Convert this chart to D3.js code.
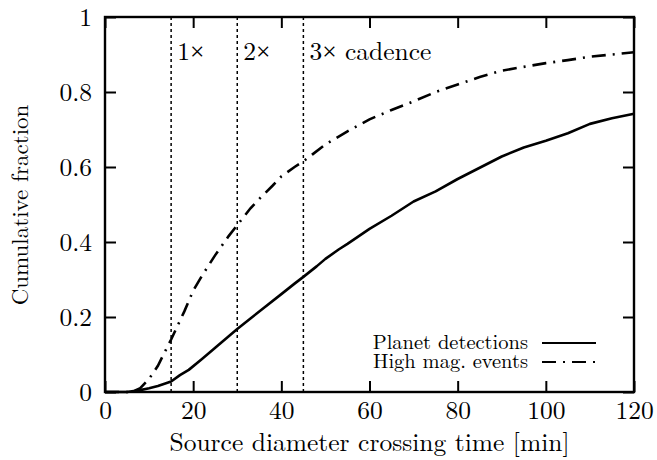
<!DOCTYPE html>
<html>
<head>
<meta charset="utf-8">
<script src="https://cdn.jsdelivr.net/npm/d3@7"></script>
<style>
  html, body { margin: 0; padding: 0; background: #fff; }
  svg { display: block; }
</style>
</head>
<body>
<svg id="chart" width="657" height="460"></svg>
<script>
// ---- data ----
const planetT = [0, 5, 8, 10, 12, 15, 17, 19, 22, 25, 28, 30, 33, 36, 40, 43, 45, 48, 50, 53, 55, 60, 65, 70, 75, 80, 85, 90, 95, 100, 105, 110, 115, 120];
const planetF = [0, 0, 0.005, 0.01, 0.016, 0.028, 0.045, 0.059, 0.088, 0.118, 0.148, 0.168, 0.196, 0.224, 0.261, 0.289, 0.307, 0.335, 0.355, 0.38, 0.395, 0.435, 0.47, 0.508, 0.535, 0.568, 0.598, 0.628, 0.652, 0.67, 0.69, 0.715, 0.73, 0.742];
const highT = [0, 6, 8, 10, 12, 15, 18, 20, 22, 25, 28, 30, 33, 35, 38, 40, 43, 45, 47, 50, 55, 60, 65, 70, 75, 80, 85, 90, 95, 100, 105, 110, 115, 120];
const highF = [0, 0, 0.01, 0.035, 0.07, 0.14, 0.215, 0.27, 0.31, 0.365, 0.415, 0.445, 0.49, 0.515, 0.55, 0.575, 0.6, 0.615, 0.633, 0.66, 0.695, 0.727, 0.752, 0.775, 0.8, 0.82, 0.84, 0.857, 0.867, 0.877, 0.885, 0.894, 0.9, 0.906];
const cadenceX = [15, 30, 45];
const cadenceLabels = ["1×", "2×", "3× cadence"];
const xTicks = [0, 20, 40, 60, 80, 100, 120];
const yTicks = [0, 0.2, 0.4, 0.6, 0.8, 1];
const yTickLabels = ["0", "0.2", "0.4", "0.6", "0.8", "1"];
const seriesNames = ["Planet detections", "High mag. events"];

// ---- layout ----
const FONT = '"Latin Modern Roman", "CMU Serif", "Liberation Serif", serif';
const L = 105, R = 634, T = 17, B = 392;
const svg = d3.select("#chart").style("font-family", FONT);
const x = d3.scaleLinear().domain([0, 120]).range([L, R]);
const y = d3.scaleLinear().domain([0, 1]).range([B, T]);
const tickLen = 11;

// axes (inward ticks on all sides)
const gB = svg.append("g").attr("transform", `translate(0,${B})`)
  .call(d3.axisBottom(x).tickValues(xTicks).tickSizeInner(-tickLen).tickSizeOuter(0).tickPadding(9).tickFormat(d3.format("d")));
const gT = svg.append("g").attr("transform", `translate(0,${T})`)
  .call(d3.axisTop(x).tickValues(xTicks).tickSizeInner(-tickLen).tickSizeOuter(0).tickFormat(""));
const gL = svg.append("g").attr("transform", `translate(${L},0)`)
  .call(d3.axisLeft(y).tickValues(yTicks).tickSizeInner(-tickLen).tickSizeOuter(0).tickPadding(13).tickFormat((d, i) => yTickLabels[i]));
const gR = svg.append("g").attr("transform", `translate(${R},0)`)
  .call(d3.axisRight(y).tickValues(yTicks).tickSizeInner(-tickLen).tickSizeOuter(0).tickFormat(""));
[gB, gT, gL, gR].forEach(g => {
  g.attr("font-family", FONT);
  g.select(".domain").remove();
  g.selectAll(".tick line").attr("stroke", "#000").attr("stroke-width", 2);
  g.selectAll("text").style("font-family", FONT).style("font-size", "25.5px").attr("fill", "#000");
});
gB.selectAll("text").attr("dy", "0.72em");
gL.selectAll("text").attr("dy", "0.34em");

// frame
svg.append("rect").attr("x", L).attr("y", T).attr("width", R - L).attr("height", B - T)
  .attr("fill", "none").attr("stroke", "#000").attr("stroke-width", 2.4);

// cadence lines
svg.append("g").selectAll("line").data(cadenceX).join("line")
  .attr("x1", d => x(d)).attr("x2", d => x(d)).attr("y1", T).attr("y2", B)
  .attr("stroke", "#000").attr("stroke-width", 1.5).attr("stroke-dasharray", "3,3");
const cadText = svg.append("g").selectAll("text").data(cadenceX).join("text")
  .attr("x", d => x(d) + 6).attr("y", 60)
  .attr("fill", "#000")
  .style("font-family", FONT).style("font-size", "25.5px");
cadText.each(function (d, i) {
  const parts = cadenceLabels[i].split("×");
  const t = d3.select(this);
  t.append("tspan").text(parts[0]);
  t.append("tspan").style("font-family", '"Liberation Serif", serif').attr("fill", "#000").text("×");
  if (parts[1]) t.append("tspan").text(parts[1]);
});

// curves
const line = d3.line().x(d => x(d[0])).y(d => y(d[1]));
const planetData = planetT.map((t, i) => [t, planetF[i]]);
const highData = highT.map((t, i) => [t, highF[i]]);
svg.append("path").datum(planetData).attr("d", line)
  .attr("fill", "none").attr("stroke", "#000").attr("stroke-width", 2.6).attr("stroke-linejoin", "round");
svg.append("path").datum(highData).attr("d", line)
  .attr("fill", "none").attr("stroke", "#000").attr("stroke-width", 2.6).attr("stroke-dasharray", "14,7,2,7");

// legend
const legY = [343, 362];
const legStyles = [null, "14,7,2,7"];
seriesNames.forEach((name, i) => {
  svg.append("text").attr("x", 528).attr("y", legY[i] + 6).attr("text-anchor", "end")
    .style("font-family", FONT).style("font-size", "20.5px").text(name);
  svg.append("line").attr("x1", 542).attr("x2", 596).attr("y1", legY[i]).attr("y2", legY[i])
    .attr("stroke", "#000").attr("stroke-width", 2.2)
    .attr("stroke-dasharray", legStyles[i]);
});

// axis titles
svg.append("text").attr("x", (L + R) / 2).attr("y", 451).attr("text-anchor", "middle")
  .style("font-family", FONT).style("font-size", "25.5px").text("Source diameter crossing time [min]");
svg.append("text").attr("transform", `translate(28,205) rotate(-90)`).attr("text-anchor", "middle")
  .style("font-family", FONT).style("font-size", "23px").text("Cumulative fraction");
</script>
</body>
</html>
